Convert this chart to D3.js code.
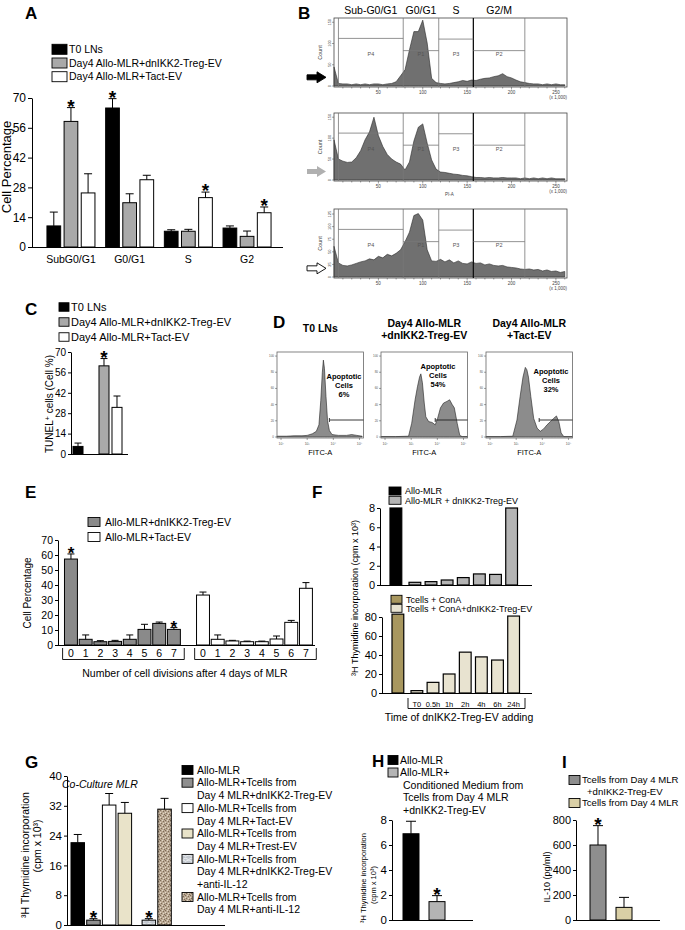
<!DOCTYPE html>
<html>
<head>
<meta charset="utf-8">
<script src="https://cdn.jsdelivr.net/npm/d3@7/dist/d3.min.js"></script>
<style>
  body { margin: 0; background: #fff; }
  svg { display: block; }
</style>
</head>
<body>
<svg id="fig" width="685" height="930"></svg>
<script>
// ---------- data ----------
// A: cell cycle phases (% of cells)
const phaseCats = ["SubG0/G1", "G0/G1", "S", "G2"];
const groupNames = ["T0 LNs", "Day4 Allo-MLR+dnIKK2-Treg-EV", "Day4 Allo-MLR+Tact-EV"];
const phaseT0 = [9.9, 65.3, 7.4, 8.9];
const phaseT0Err = [6.5, 4.4, 0.7, 1.0];
const phaseTreg = [59.0, 20.8, 7.4, 5.0];
const phaseTregErr = [6.5, 4.2, 0.9, 2.5];
const phaseTact = [25.4, 31.6, 23.2, 16.1];
const phaseTactErr = [9.0, 2.1, 2.6, 2.7];
const phaseStars = [[0, 1, 0, 0], [1, 0, 0, 0], [0, 0, 1, 1]];
const phaseTicks = [0, 14, 28, 42, 56, 70];

// B: PI-A histograms, counts per 5k bin
const bPhaseNames = ["Sub-G0/G1", "G0/G1", "S", "G2/M"];
const bGateNames = ["P4", "P1", "P3", "P2"];
const bGates = [5, 78, 118, 157, 215];
const bGateLevel = [0.70, 0.52, 0.69, 0.52];
const bBins = d3.range(0, 261, 5);
const bT0 = [45,6,5,5,3,5,3,5,3,5,5,3,5,6,10,24,38,85,128,128,155,101,18,8,6,5,6,8,10,13,11,14,13,16,18,19,22,24,29,22,19,14,10,8,6,5,5,3,5,3,5,3,3];
const bTreg = [96,50,45,42,43,53,70,96,115,150,106,80,61,50,43,38,24,43,93,126,134,88,48,26,19,18,16,14,13,11,10,8,6,6,5,6,5,5,6,5,5,5,3,5,3,5,3,5,3,5,3,3,3];
const bTact = [61,28,23,22,24,27,30,32,36,34,41,38,45,42,47,54,70,89,122,126,113,54,32,31,35,30,34,28,32,27,26,30,27,28,24,26,23,22,23,20,19,18,16,15,16,14,15,12,14,11,12,9,11];
const bXTicks = [50, 100, 150, 200, 250];

// C: TUNEL+ cells
const tunelVals = [5.2, 60.5, 32.0];
const tunelErr = [2.3, 5.0, 7.8];
const tunelStars = [0, 1, 0];

// D: FITC-A histograms  [log10 FITC, count]
const dTitles = [["T0 LNs"], ["Day4 Allo-MLR", "+dnIKK2-Treg-EV"], ["Day4 Allo-MLR", "+Tact-EV"]];
const dPercent = ["6%", "54%", "32%"];
const dT0 = [[1.85,1],[2.2,1],[2.5,1.5],[2.8,1.5],[3.0,2],[3.2,4],[3.35,7],[3.45,15],[3.52,45],[3.58,80],[3.62,95],[3.66,85],[3.72,50],[3.78,20],[3.85,8],[3.95,3],[4.2,2],[4.5,2],[4.7,3],[4.9,2],[5.1,1]];
const dTreg = [[1.85,0.5],[2.4,0.5],[2.9,1],[3.02,17],[3.15,46],[3.24,62],[3.32,74],[3.37,78],[3.43,67],[3.5,42],[3.56,25],[3.67,19],[3.8,18],[3.92,15],[4.01,23],[4.12,36],[4.24,42],[4.37,44],[4.47,46],[4.57,40],[4.65,36],[4.76,17],[4.86,2],[4.95,0.5],[5.15,0.5]];
const dTact = [[1.85,0.5],[2.4,0.5],[2.87,1],[3.03,21],[3.15,50],[3.26,74],[3.35,86],[3.41,83],[3.47,74],[3.56,50],[3.67,23],[3.8,11],[3.92,7],[4.05,10],[4.18,15],[4.31,19],[4.43,23],[4.54,26],[4.63,19],[4.72,5],[4.82,0.5],[5.15,0.5]];
const dGateStart = [3.85, 3.92, 3.88];
const dGateLevel = 21;
const dXTicks = [2, 3, 4, 5];
const dYTicks = [0, 20, 40, 60, 80, 100];

// E: cell divisions
const eDivs = ["0", "1", "2", "3", "4", "5", "6", "7"];
const eNames = ["Allo-MLR+dnIKK2-Treg-EV", "Allo-MLR+Tact-EV"];
const eTreg = [57.3, 3.8, 2.2, 2.4, 3.8, 10.4, 14.4, 10.4];
const eTregErr = [3.4, 2.9, 0.7, 0.7, 2.9, 3.4, 0.9, 1.2];
const eTregStars = [1, 0, 0, 0, 0, 0, 0, 1];
const eTact = [33.3, 3.8, 2.7, 2.2, 2.2, 4.0, 15.1, 37.8];
const eTactErr = [2.0, 2.9, 0.4, 0.4, 0.4, 2.0, 1.3, 3.8];
const eTicks = [0, 10, 20, 30, 40, 50, 60, 70];

// F: 3H thymidine vs time of adding
const fTimes = ["T0", "0.5h", "1h", "2h", "4h", "6h", "24h"];
const fTopNames = ["Allo-MLR", "Allo-MLR + dnIKK2-Treg-EV"];
const fTopCtrl = 8.0;
const fTopTreg = [0.28, 0.35, 0.52, 0.77, 1.15, 1.1, 8.0];
const fTopTicks = [0, 2, 4, 6, 8];
const fBotNames = ["Tcells + ConA", "Tcells + ConA+dnIKK2-Treg-EV"];
const fBotCtrl = 83;
const fBotTreg = [2.5, 11.2, 20, 43, 38, 34.7, 81];
const fBotTicks = [0, 20, 40, 60, 80];

// G: co-culture MLR
const gNames = [
  ["Allo-MLR"],
  ["Allo-MLR+Tcells from", "Day 4 MLR+dnIKK2-Treg-EV"],
  ["Allo-MLR+Tcells from", "Day 4 MLR+Tact-EV"],
  ["Allo-MLR+Tcells from", "Day 4 MLR+Trest-EV"],
  ["Allo-MLR+Tcells from", "Day 4 MLR+dnIKK2-Treg-EV", "+anti-IL-12"],
  ["Allo-MLR+Tcells from", "Day 4 MLR+anti-IL-12"]
];
const gVals = [22.1, 1.3, 32.2, 30.0, 1.3, 31.1];
const gErr = [2.2, 0.4, 3.1, 2.9, 0.4, 2.9];
const gStars = [0, 1, 0, 0, 1, 0];
const gTicks = [0, 8, 16, 24, 32, 40];

// H: conditioned medium
const hNames = [["Allo-MLR"], ["Allo-MLR+", "Conditioned Medium from", "Tcells from Day 4 MLR", "+dnIKK2-Treg-EV"]];
const hVals = [6.9, 1.47];
const hErr = [1.0, 0.48];
const hStars = [0, 1];
const hTicks = [0, 2, 4, 6, 8];

// I: IL-10
const iNames = [["Tcells from Day 4 MLR", "+dnIKK2-Treg-EV"], ["Tcells from Day 4 MLR"]];
const iVals = [600, 101];
const iErr = [155, 80];
const iStars = [1, 0];
const iTicks = [0, 200, 400, 600, 800];

// ---------- helpers ----------
const FONT = "'Liberation Sans', Arial, Helvetica, sans-serif";
const svg = d3.select("#fig").attr("font-family", FONT);

function txt(x, y, s, fs, o = {}) {
  const t = svg.append("text").attr("x", x).attr("y", y).attr("font-size", fs).text(s);
  if (o.anchor) t.attr("text-anchor", o.anchor);
  if (o.bold) t.attr("font-weight", "bold");
  if (o.italic) t.attr("font-style", "italic");
  t.attr("fill", o.fill || "#000");
  if (o.rotate) t.attr("transform", `rotate(-90,${x},${y})`);
  return t;
}
function line(x1, y1, x2, y2, sw = 1, col = "#000") {
  return svg.append("line").attr("x1", x1).attr("y1", y1).attr("x2", x2).attr("y2", y2)
    .attr("stroke", col).attr("stroke-width", sw);
}
function leftAxis(x, y, ticks, fs, o = {}) {
  const g = svg.append("g").attr("transform", `translate(${x},0)`)
    .call(d3.axisLeft(y).tickValues(ticks).tickSize(o.ts || 4).tickSizeOuter(0)
      .tickPadding(o.pad || 2).tickFormat(d3.format("d")));
  g.attr("font-family", FONT).attr("font-size", fs);
  g.selectAll("text").attr("fill", "#000");
  g.selectAll("line,path").attr("stroke", "#000").attr("stroke-width", o.sw || 1);
  return g;
}
function bar(cx, bw, y, v, e, fill, star, o = {}) {
  svg.append("rect").attr("x", cx - bw / 2).attr("y", y(v))
    .attr("width", bw).attr("height", y(0) - y(v))
    .attr("fill", fill).attr("stroke", "#000").attr("stroke-width", o.sw || 1);
  let top = y(v);
  if (e) {
    const ye = y(v + e), cap = o.cap || bw * 0.3;
    line(cx, y(v), cx, ye);
    line(cx - cap, ye, cx + cap, ye);
    top = ye;
  }
  if (star) txt(cx, top + 5, "*", o.starSize || 19, { anchor: "middle", bold: true });
}
function legend(x, y, items, o) {
  let row = 0;
  items.forEach(it => {
    const cy = y + row * o.lh;
    svg.append("rect").attr("x", x).attr("y", cy - o.sh / 2).attr("width", o.sw).attr("height", o.sh)
      .attr("fill", it.fill).attr("stroke", "#000").attr("stroke-width", 0.9);
    it.lines.forEach((ln, i) => {
      txt(x + o.tx + (i ? (o.indent || 0) : 0), y + (row + i) * o.lh + o.fs * 0.36, ln, o.fs);
    });
    row += it.lines.length;
  });
}
function panelLabel(x, y, s) { txt(x, y, s, 17, { bold: true }); }

// patterns for panel G
const defs = svg.append("defs");
const pm = defs.append("pattern").attr("id", "marble").attr("width", 6).attr("height", 5).attr("patternUnits", "userSpaceOnUse");
pm.append("rect").attr("width", 6).attr("height", 5).attr("fill", "#c3c8cf");
pm.append("path").attr("d", "M0 1L3 0L6 1.5M0 3.5L2.5 4.5L6 3").attr("stroke", "#eef0f3").attr("stroke-width", 0.9).attr("fill", "none");
const ps = defs.append("pattern").attr("id", "speckle").attr("width", 5).attr("height", 5).attr("patternUnits", "userSpaceOnUse");
ps.append("rect").attr("width", 5).attr("height", 5).attr("fill", "#b9a893");
ps.append("path").attr("d", "M0 0h1v1h-1zM3 1h1v1h-1zM1 3h1v1h-1zM4 4h1v1h-1z").attr("fill", "#7d6a56");
ps.append("path").attr("d", "M2 0h1v1h-1zM0 2h1v1h-1zM3 3h1v1h-1z").attr("fill", "#e3d9c8");

// ---------- A ----------
panelLabel(25, 19, "A");
legend(52, 49.3, [
  { fill: "#000", lines: [groupNames[0]] },
  { fill: "#a9a9a9", lines: [groupNames[1]] },
  { fill: "#fff", lines: [groupNames[2]] }
], { sw: 15, sh: 10, tx: 17, lh: 13.7, fs: 10.5 });
const ay = d3.scaleLinear().domain([0, 70]).range([247, 98]);
const ax = d3.scaleBand().domain(phaseCats).range([41.6, 276.4]);
const aIn = d3.scaleBand().domain([0, 1, 2]).range([-24, 24]).paddingInner(0.2);
leftAxis(32, ay, phaseTicks, 12);
line(32, ay(0) + 0.5, 283, ay(0) + 0.5);
const aSeries = [[phaseT0, phaseT0Err, "#000"], [phaseTreg, phaseTregErr, "#a9a9a9"], [phaseTact, phaseTactErr, "#fff"]];
phaseCats.forEach((c, i) => {
  const gc = ax(c) + ax.bandwidth() / 2;
  aSeries.forEach(([vals, errs, fill], s) => {
    bar(gc + aIn(s) + aIn.bandwidth() / 2, aIn.bandwidth(), ay, vals[i], errs[i], fill, phaseStars[s][i], { cap: 4 });
  });
  txt(gc, 263, c, 10.5, { anchor: "middle" });
});
txt(11, 167, "Cell Percentage", 13, { anchor: "middle", rotate: true });

// ---------- B ----------
panelLabel(298, 19, "B");
const bx = d3.scaleLinear().domain([0, 262.5]).range([334, 567]);
const bFrames = [
  { top: 18, bot: 87, vals: bT0, max: 160, ticks: [0, 50, 100, 150], arrow: "#000", stroke: "#000" },
  { top: 113, bot: 181, vals: bTreg, max: 160, ticks: [0, 50, 100, 150], arrow: "#b0b0b0", stroke: "none" },
  { top: 209, bot: 278, vals: bTact, max: 135, ticks: [0, 25, 50, 75, 100, 125], arrow: "#fff", stroke: "#000" }
];
bGateNames.forEach((n, i) => txt(bx((bGates[i] + bGates[i + 1]) / 2), 13.5, bPhaseNames[i], 10.5, { anchor: "middle" }));
bFrames.forEach((f, k) => {
  const by = d3.scaleLinear().domain([0, f.max]).range([f.bot - 1, f.top]);
  svg.append("path").datum(bBins.map((b, i) => [b, f.vals[i]]))
    .attr("d", d3.area().x(d => bx(d[0])).y0(by(0)).y1(d => by(d[1])))
    .attr("fill", "#707070").attr("stroke", "#2a2a2a").attr("stroke-width", 0.6);
  svg.append("rect").attr("x", bx(0)).attr("y", f.top).attr("width", bx(262.5) - bx(0)).attr("height", f.bot - f.top)
    .attr("fill", "none").attr("stroke", "#444").attr("stroke-width", 0.8);
  bGates.forEach((g, i) => line(bx(g), f.top, bx(g), f.bot, g === 157 ? 1.3 : 0.8, g === 157 ? "#111" : "#777"));
  bGateNames.forEach((n, i) => {
    line(bx(bGates[i]), by(f.max * bGateLevel[i]), bx(bGates[i + 1]), by(f.max * bGateLevel[i]), 0.8, "#777");
    txt(bx((bGates[i] + bGates[i + 1]) / 2), by(f.max * 0.47) + 2, n, 5.5, { anchor: "middle", fill: "#555" });
  });
  // ticks
  d3.range(10, 261, 10).forEach(t => line(bx(t), f.bot, bx(t), f.bot + (t % 50 ? 1.5 : 2.5), 0.5, "#444"));
  bXTicks.forEach(t => txt(bx(t), f.bot + 7, String(t), 4.5, { anchor: "middle", fill: "#444" }));
  txt(567, f.bot + 12, "(x 1,000)", 4.5, { anchor: "end", fill: "#444" });
  f.ticks.forEach(t => {
    line(bx(0) - 2, by(t), bx(0), by(t), 0.5, "#444");
    txt(bx(0) - 3, by(t), String(t), 4, { anchor: "middle", fill: "#444", rotate: true });
  });
  txt(322, (f.top + f.bot) / 2, "Count", 5.5, { anchor: "middle", fill: "#444", rotate: true });
  // arrow
  const ya = f.top + (f.bot - f.top) * 0.86;
  svg.append("path").attr("d", `M307,${ya - 2.5}H317V${ya - 5.5}L326,${ya}L317,${ya + 5.5}V${ya + 2.5}H307Z`)
    .attr("fill", f.arrow).attr("stroke", f.stroke).attr("stroke-width", 0.9);
});
txt(bx(130), 196, "PI-A", 4.5, { anchor: "middle", fill: "#444" });

// ---------- C ----------
panelLabel(25, 315, "C");
legend(59, 307, [
  { fill: "#000", lines: [groupNames[0]] },
  { fill: "#a9a9a9", lines: [groupNames[1]] },
  { fill: "#fff", lines: [groupNames[2]] }
], { sw: 10, sh: 8.5, tx: 12, lh: 15, fs: 11 });
const cy = d3.scaleLinear().domain([0, 70]).range([454, 352]);
const cx = d3.scaleBand().domain(["T0", "gap", "Treg", "Tact"]).range([73, 122]).paddingInner(0.23);
const cFills = ["#000", "#a9a9a9", "#fff"];
leftAxis(71, cy, phaseTicks, 10, { ts: 3 });
line(71, cy(0) + 0.5, 128, cy(0) + 0.5);
["T0", "Treg", "Tact"].forEach((k, i) => {
  bar(cx(k) + cx.bandwidth() / 2, cx.bandwidth(), cy, tunelVals[i], tunelErr[i], cFills[i], tunelStars[i], { cap: 3.5 });
});
{
  const t = txt(53, 404, "TUNEL", 10, { anchor: "middle", rotate: true });
  t.append("tspan").attr("dy", -3.5).attr("font-size", 7).text("+");
  t.append("tspan").attr("dy", 3.5).text(" cells (Cell %)");
}

// ---------- D ----------
panelLabel(273, 328, "D");
const dFrames = [277, 381, 486];
[dT0, dTreg, dTact].forEach((pts, k) => {
  const x0 = dFrames[k], x1 = x0 + 86.5;
  const dx = d3.scaleLinear().domain([1.846, 5.154]).range([x0, x1]);
  const dy = d3.scaleLinear().domain([0, 105]).range([437, 352]);
  const tc = (x0 + x1) / 2;
  if (dTitles[k].length === 1) txt(tc, 332, dTitles[k][0], 10.5, { anchor: "middle", bold: true });
  else dTitles[k].forEach((s, i) => txt(tc, 327 + i * 12, s, 10.5, { anchor: "middle", bold: true }));
  svg.append("path").datum(pts)
    .attr("d", d3.area().x(d => dx(d[0])).y0(dy(0)).y1(d => dy(d[1])))
    .attr("fill", "#8c8c8c").attr("stroke", "#222").attr("stroke-width", 0.6);
  svg.append("rect").attr("x", x0).attr("y", 352).attr("width", x1 - x0).attr("height", 86)
    .attr("fill", "none").attr("stroke", "#666").attr("stroke-width", 0.8);
  dYTicks.forEach(t => {
    line(x0 - 2, dy(t), x0, dy(t), 0.5, "#444");
    txt(x0 - 3, dy(t) + 1, String(t), 3, { anchor: "end", fill: "#555" });
  });
  dXTicks.forEach(t => {
    line(dx(t), 438, dx(t), 440, 0.5, "#444");
    txt(dx(t), 445, "10" + "⁰¹²³⁴⁵"[t], 3.5, { anchor: "middle", fill: "#555" });
  });
  line(dx(dGateStart[k]), dy(dGateLevel), x1, dy(dGateLevel), 0.9, "#222");
  line(dx(dGateStart[k]), dy(dGateLevel) - 2, dx(dGateStart[k]), dy(dGateLevel) + 2, 0.9, "#222");
  txt(tc, 455, "FITC-A", 7.5, { anchor: "middle" });
});
[[344, 379], [438, 369], [551, 373.5]].forEach(([x, y], k) => {
  txt(x, y, "Apoptotic", 7.5, { anchor: "middle", bold: true });
  txt(x, y + 9, "Cells", 7.5, { anchor: "middle", bold: true });
  txt(x, y + 18, dPercent[k], 7.5, { anchor: "middle", bold: true });
});

// ---------- E ----------
panelLabel(25, 498, "E");
legend(88, 522, [
  { fill: "#8a8a8a", lines: [eNames[0]] },
  { fill: "#fff", lines: [eNames[1]] }
], { sw: 12, sh: 9, tx: 17, lh: 15, fs: 10.5 });
const ey = d3.scaleLinear().domain([0, 70]).range([645, 540]);
const eG = d3.scaleBand().domain(["treg", "tact"]).range([63.6, 313.3]).paddingInner(0.109);
const eIn = d3.scaleBand().domain(eDivs).range([0, eG.bandwidth()]).paddingInner(0.12).paddingOuter(0.06);
leftAxis(58, ey, eTicks, 10.5, { ts: 3 });
line(58, ey(0) + 0.5, 315, ey(0) + 0.5);
[["treg", eTreg, eTregErr, "#8a8a8a", eTregStars], ["tact", eTact, eTactErr, "#fff", null]].forEach(([k, vals, errs, fill, stars]) => {
  const g0 = eG(k);
  eDivs.forEach((d, i) => {
    const c = g0 + eIn(d) + eIn.bandwidth() / 2;
    bar(c, eIn.bandwidth(), ey, vals[i], errs[i], fill, stars ? stars[i] : 0, { cap: 3.5, starSize: 17 });
    txt(c, 657, d, 10.5, { anchor: "middle" });
  });
  const b0 = g0 - 1, b1 = g0 + eG.bandwidth() + 3;
  svg.append("path").attr("d", `M${b0},648V659.5H${b1}V648`).attr("fill", "none").attr("stroke", "#000").attr("stroke-width", 0.9);
});
txt(185, 677, "Number of cell divisions after 4 days of MLR", 10.5, { anchor: "middle" });
txt(30.5, 593, "Cell Percentage", 10, { anchor: "middle", rotate: true });

// ---------- F ----------
panelLabel(312, 498, "F");
const fyT = d3.scaleLinear().domain([0, 8]).range([585, 508]);
const fxT = d3.scaleBand().domain(fTimes).range([409, 517.5]).paddingInner(0.27);
legend(389, 491, [
  { fill: "#000", lines: [fTopNames[0]] },
  { fill: "#b4b4b4", lines: [fTopNames[1]] }
], { sw: 12, sh: 8, tx: 16, lh: 9.3, fs: 9 });
leftAxis(380, fyT, fTopTicks, 11, { ts: 3 });
line(380, fyT(0) + 0.5, 532, fyT(0) + 0.5, 1.2);
bar(fxT("T0") + fxT.bandwidth() / 2 - 19, fxT.bandwidth(), fyT, fTopCtrl, 0, "#000", 0, { sw: 1.2 });
fTimes.forEach((t, i) => bar(fxT(t) + fxT.bandwidth() / 2, fxT.bandwidth(), fyT, fTopTreg[i], 0, "#b4b4b4", 0, { sw: 1.2 }));

const fyB = d3.scaleLinear().domain([0, 80]).range([693, 617]);
const fxB = d3.scaleBand().domain(fTimes).range([411, 519.5]).paddingInner(0.27);
legend(391, 599.3, [
  { fill: "#a8975f", lines: [fBotNames[0]] },
  { fill: "#e8e3d0", lines: [fBotNames[1]] }
], { sw: 11, sh: 8, tx: 15, lh: 9, fs: 9 });
leftAxis(382, fyB, fBotTicks, 11, { ts: 3 });
line(382, fyB(0) + 0.5, 532, fyB(0) + 0.5, 1.2);
bar(fxB("T0") + fxB.bandwidth() / 2 - 19, fxB.bandwidth(), fyB, fBotCtrl, 0, "#a8975f", 0, { sw: 1.2 });
fTimes.forEach((t, i) => {
  const c = fxB(t) + fxB.bandwidth() / 2;
  bar(c, fxB.bandwidth(), fyB, fBotTreg[i], 0, "#e8e3d0", 0, { sw: 1.2 });
  txt(c, 707, t, 7.5, { anchor: "middle" });
});
svg.append("path").attr("d", `M${fxB.range()[0] - 3},698V708.5H${fxB.range()[1] + 5.5}V698`)
  .attr("fill", "none").attr("stroke", "#000").attr("stroke-width", 0.9);
txt(459, 721, "Time of dnIKK2-Treg-EV adding", 10.5, { anchor: "middle" });
txt(358, 598, "³H Thymidine incorporation  (cpm x 10³)", 9, { anchor: "middle", rotate: true });

// ---------- G ----------
panelLabel(25, 768, "G");
const gFills = ["#000", "#8f8f8f", "#fff", "#e9e3c9", "url(#marble)", "url(#speckle)"];
legend(182, 770, gNames.map((l, i) => ({ fill: gFills[i], lines: l })), { sw: 11, sh: 9, tx: 15, lh: 12.7, fs: 10.5 });
const gy = d3.scaleLinear().domain([0, 40]).range([925, 776]);
const gx = d3.scaleBand().domain(d3.range(gVals.length)).range([71, 163]).paddingInner(0.14);
leftAxis(67, gy, gTicks, 11.5, { ts: 3 });
line(67, gy(0) + 0.5, 225, gy(0) + 0.5);
gVals.forEach((v, i) => {
  const c = gx(i) + gx.bandwidth() / 2 + (i >= 4 ? 8.3 : 0);
  bar(c, gx.bandwidth(), gy, v, gErr[i], gFills[i], gStars[i], { cap: 4 });
});
txt(62, 788, "Co-Culture MLR", 10.5, { italic: true });
txt(29, 855, "³H Thymidine incorporation", 10.5, { anchor: "middle", rotate: true });
txt(40.5, 846, "(cpm x 10³)", 10.5, { anchor: "middle", rotate: true });

// ---------- H ----------
panelLabel(372, 767, "H");
legend(388, 760, [
  { fill: "#000", lines: hNames[0] },
  { fill: "#b4b4b4", lines: hNames[1] }
], { sw: 10, sh: 9, tx: 12, lh: 12.5, fs: 10.5, indent: 3 });
const hy = d3.scaleLinear().domain([0, 8]).range([920, 820]);
const hx = d3.scaleBand().domain([0, 1]).range([403, 445]).paddingInner(0.385);
leftAxis(392, hy, hTicks, 11.5, { ts: 3 });
line(392, hy(0) + 0.5, 473, hy(0) + 0.5);
hVals.forEach((v, i) => bar(hx(i) + hx.bandwidth() / 2, hx.bandwidth(), hy, v, hErr[i], i ? "#b4b4b4" : "#000", hStars[i], { cap: 5 }));
txt(365.5, 878, "³H Thymidine incorporation", 7.5, { anchor: "middle", rotate: true });
txt(376, 885, "(cpm x 10³)", 7.5, { anchor: "middle", rotate: true });

// ---------- I ----------
panelLabel(562, 768, "I");
legend(569, 780, [
  { fill: "#8e8e8e", lines: iNames[0] },
  { fill: "#d9cfa6", lines: iNames[1] }
], { sw: 11, sh: 9, tx: 13, lh: 11.5, fs: 9.6, indent: 5 });
const iy = d3.scaleLinear().domain([0, 800]).range([920, 820]);
const ix = d3.scaleBand().domain([0, 1]).range([590, 632]).paddingInner(0.385);
leftAxis(576, iy, iTicks, 11, { ts: 3 });
line(576, iy(0) + 0.5, 660, iy(0) + 0.5);
iVals.forEach((v, i) => bar(ix(i) + ix.bandwidth() / 2, ix.bandwidth(), iy, v, iErr[i], i ? "#d9cfa6" : "#8e8e8e", iStars[i], { cap: 5 }));
txt(550, 877, "IL-10  (pg/ml)", 9, { anchor: "middle", rotate: true });
</script>
</body>
</html>
